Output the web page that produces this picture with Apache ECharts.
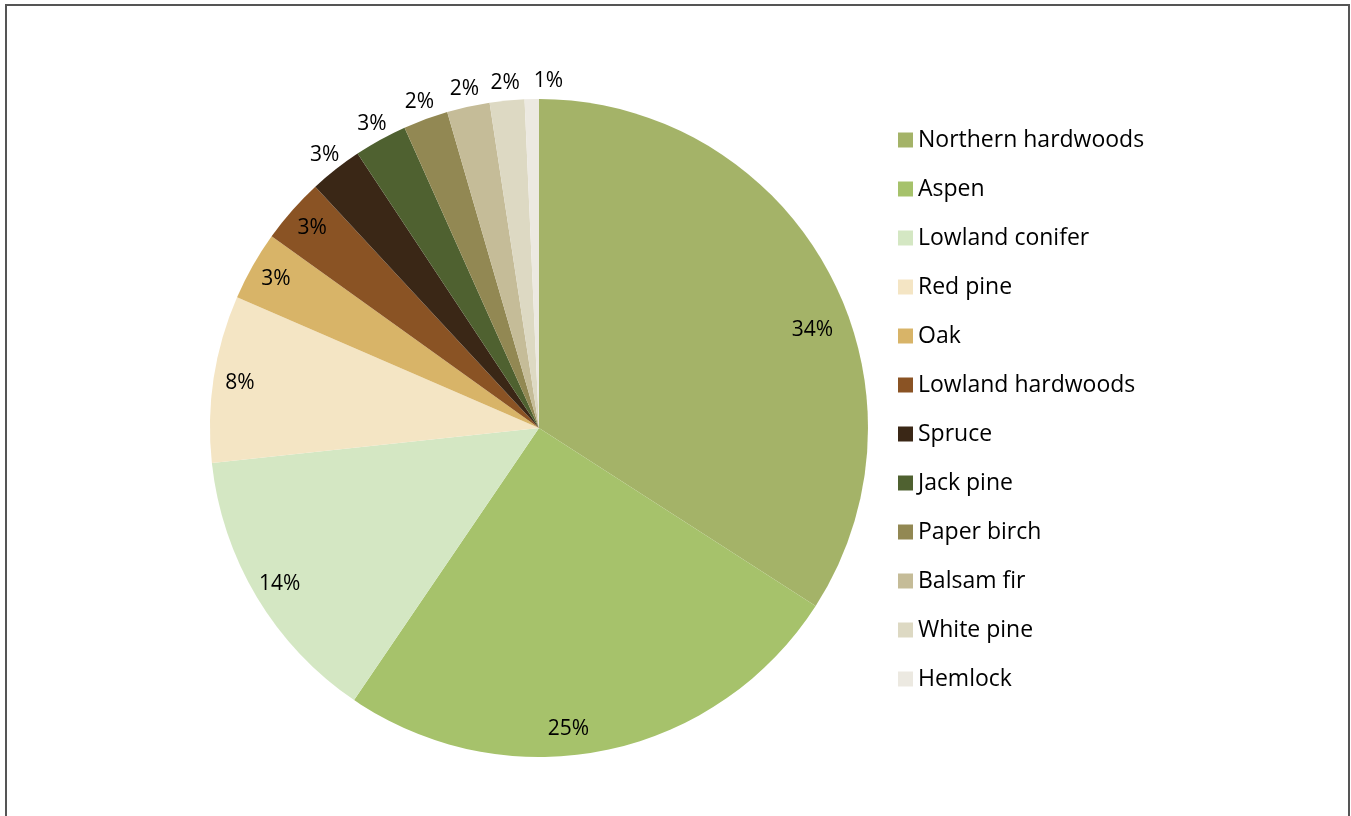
<!DOCTYPE html>
<html>
<head>
<meta charset="utf-8">
<script src="https://cdn.jsdelivr.net/npm/echarts@6/dist/echarts.min.js"></script>
<style>
  html, body { margin: 0; padding: 0; background: #fff; overflow: hidden; }
  #main { width: 1351px; height: 816px; }
  #frame {
    position: absolute; left: 5px; top: 4px; width: 1341px; height: 900px;
    border: 2px solid #555; pointer-events: none;
  }
</style>
</head>
<body>
<div id="main"></div>
<div id="frame"></div>
<script>
// forest types, clockwise from 12 o'clock
var names = ['Northern hardwoods', 'Aspen', 'Lowland conifer', 'Red pine', 'Oak',
  'Lowland hardwoods', 'Spruce', 'Jack pine', 'Paper birch', 'Balsam fir',
  'White pine', 'Hemlock'];
// share of area, %
var values = [34.1, 25.4, 13.8, 8.2, 3.4, 3.2, 2.6, 2.6, 2.2, 2.1, 1.7, 0.7];
var colors = ['#a4b368', '#a6c26b', '#d4e7c3', '#f4e5c4', '#d8b468', '#8a5324',
  '#3a2716', '#4f6130', '#928853', '#c5bc98', '#ddd9c3', '#ece9e1'];

// nudges for a few labels that Excel moved off the slice middle
var labelNudge = { 0: [8, 47], 1: [-31, 5], 11: [17, 0] };

var chart = echarts.init(document.getElementById('main'));

var R = 329;
var center = [539, 428];
var labelFont = { fontFamily: 'Open Sans', fontSize: 21, color: '#000' };

function pct(p) { return Math.round(p.percent) + '%'; }

// transparent ring used only to place the percent labels
function labelRing(radius, show) {
  return {
    type: 'pie',
    silent: true,
    legendHoverLink: false,
    startAngle: 90,
    center: center,
    radius: radius,
    itemStyle: { color: 'rgba(0,0,0,0)' },
    emphasis: { disabled: true },
    labelLine: { show: false },
    labelLayout: { hideOverlap: false },
    data: names.map(function (n, i) {
      var lab = { show: show(i) };
      if (labelNudge[i]) lab.offset = labelNudge[i];
      return { name: n, value: values[i], label: lab };
    }),
    label: Object.assign({ position: 'inside', formatter: pct }, labelFont)
  };
}

chart.setOption({
  animation: false,
  color: colors,
  legend: {
    orient: 'vertical',
    left: 893,
    top: 122,
    icon: 'rect',
    itemWidth: 15,
    itemHeight: 15,
    itemGap: 23,
    data: names,
    textStyle: { fontFamily: 'Open Sans', fontSize: 23, color: '#000', lineHeight: 26 }
  },
  series: [
    {
      type: 'pie',
      startAngle: 90,
      center: center,
      radius: [0, R],
      label: { show: false },
      labelLine: { show: false },
      emphasis: { scale: false },
      data: names.map(function (n, i) { return { name: n, value: values[i] }; })
    },
    labelRing([R * 0.82, R], function (i) { return i < 6; }),
    labelRing([R, R * 1.09], function (i) { return i >= 6; })
  ]
});
</script>
</body>
</html>
